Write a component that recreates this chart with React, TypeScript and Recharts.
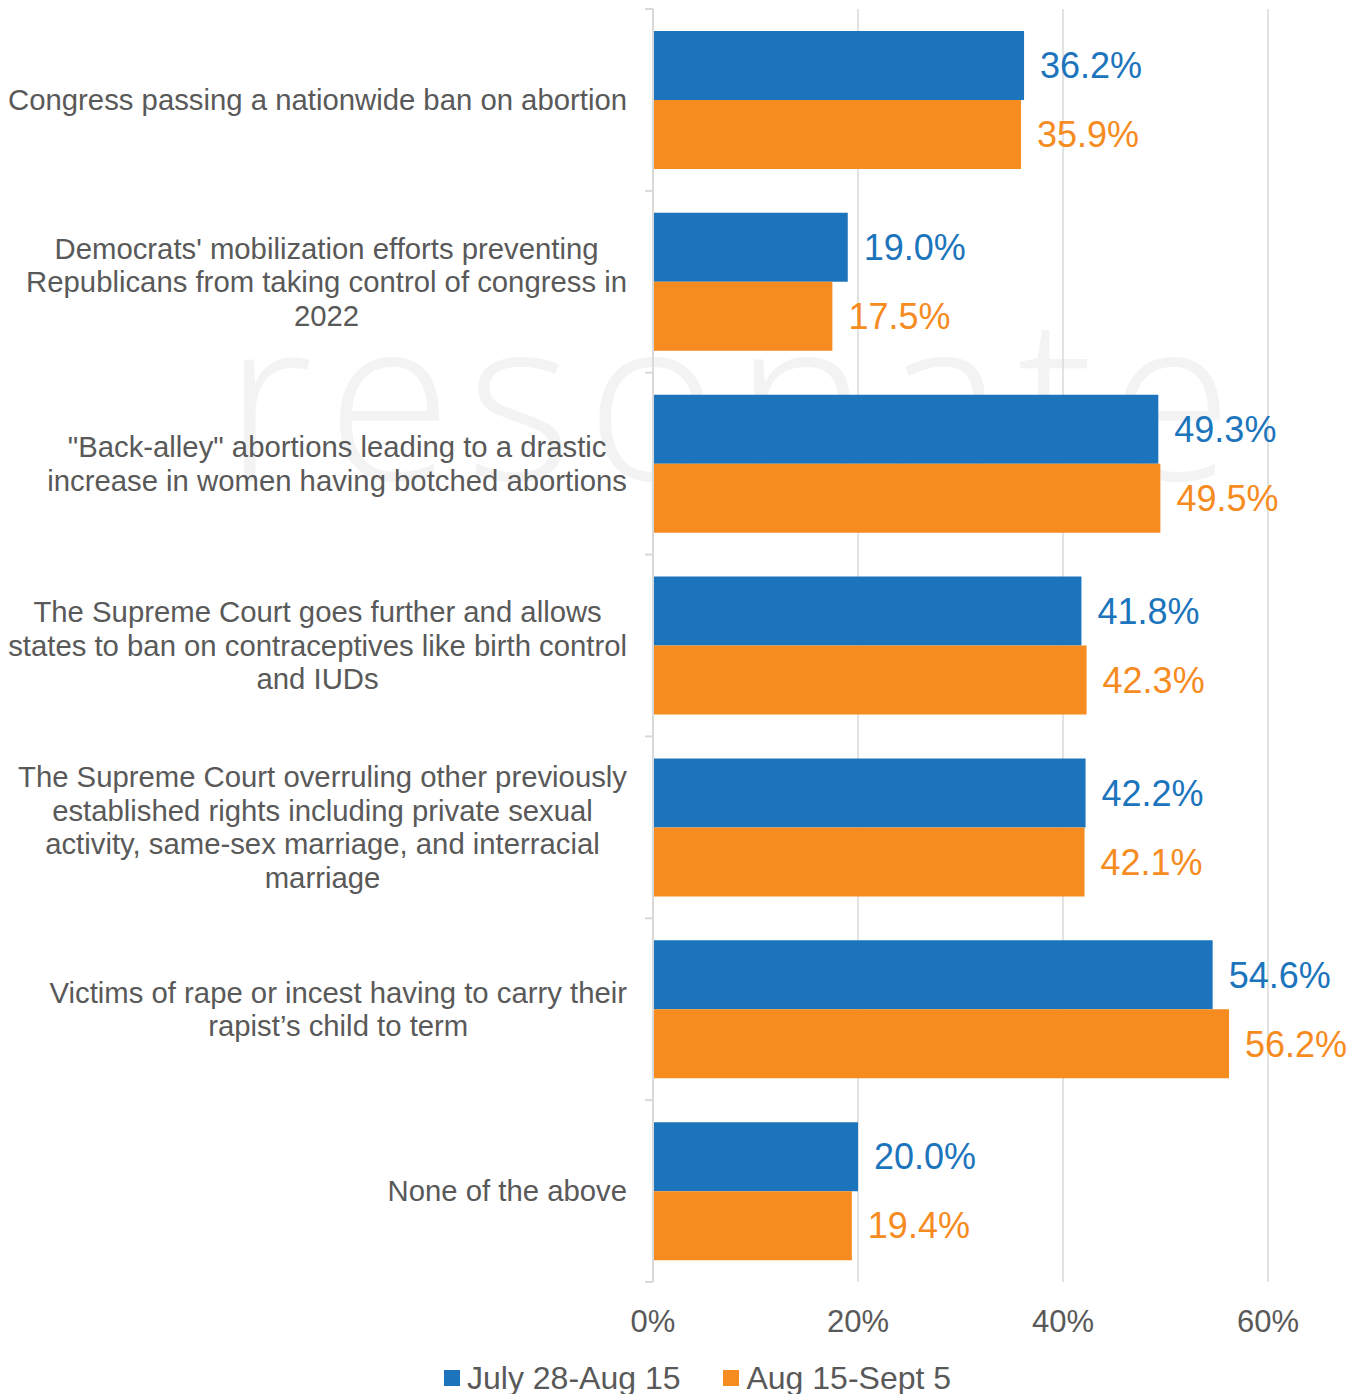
// Abortion-related concerns, two survey waves (horizontal bars)
import React from 'react'
import { BarChart, Bar, XAxis, YAxis, CartesianGrid, LabelList, Legend } from 'recharts'

const categories = [
  'Congress passing a nationwide ban on abortion',
  "Democrats' mobilization efforts preventing\nRepublicans from taking control of congress in\n2022",
  '"Back-alley" abortions leading to a drastic\nincrease in women having botched abortions',
  'The Supreme Court goes further and allows\nstates to ban on contraceptives like birth control\nand IUDs',
  'The Supreme Court overruling other previously\nestablished rights including private sexual\nactivity, same-sex marriage, and interracial\nmarriage',
  'Victims of rape or incest having to carry their\nrapist\u2019s child to term',
  'None of the above',
]
const julyAug = [36.2, 19.0, 49.3, 41.8, 42.2, 54.6, 20.0]
const augSept = [35.9, 17.5, 49.5, 42.3, 42.1, 56.2, 19.4]
const seriesNames = ['July 28-Aug 15', 'Aug 15-Sept 5']
const xTicks = [0, 20, 40, 60]

const BLUE = '#1C75BC'
const ORANGE = '#F68B1F'
const GREY = '#595959'
const LINE = '#D9D9D9'
const FONT = '"Liberation Sans", Arial, sans-serif'

const W = 1352
const H = 1386
const MARGIN = { top: 1, right: 92, left: 0, bottom: 52 }
const X_AXIS_H = 60
const BAND = (H - MARGIN.top - MARGIN.bottom - X_AXIS_H) / categories.length

const data = categories.map((name, i) => ({ name, a: julyAug[i], b: augSept[i] }))

let ctx: CanvasRenderingContext2D | null = null
const measure = (s: string, size: number) => {
  if (!ctx) ctx = document.createElement('canvas').getContext('2d')
  if (!ctx) return s.length * size * 0.5
  ctx.font = `${size}px "Liberation Sans", Arial, sans-serif`
  return ctx.measureText(s).width
}

// category label: lines centred within a block that is right-aligned at x
const CategoryTick = (props: any) => {
  const { x, y, payload, index } = props
  const size = 29.3
  const lh = 33.5
  const lines = String(payload.value).split('\n')
  const w = Math.max(...lines.map(l => measure(l, size)))
  const cx = x - w / 2
  const y0 = y - ((lines.length - 1) * lh) / 2
  const axisX = x + 26
  return (
    <g>
      <line x1={axisX - 8} x2={axisX} y1={y - BAND / 2} y2={y - BAND / 2} stroke={LINE} strokeWidth={2} />
      {index === categories.length - 1 && (
        <line x1={axisX - 8} x2={axisX} y1={y + BAND / 2} y2={y + BAND / 2} stroke={LINE} strokeWidth={2} />
      )}
      <text textAnchor="middle" fill={GREY} fontSize={size} fontFamily={FONT}>
        {lines.map((l, i) => (
          <tspan key={i} x={cx} y={y0 + i * lh} dy="0.35em">{l}</tspan>
        ))}
      </text>
    </g>
  )
}

const seriesColors = [BLUE, ORANGE]

const LegendContent = () => (
  <div style={{ display: 'flex', alignItems: 'center', fontFamily: FONT, fontSize: 32, color: GREY, whiteSpace: 'nowrap', lineHeight: '34px' }}>
    {seriesNames.map((name, i) => (
      <div key={name} style={{ display: 'flex', alignItems: 'center', marginRight: 43 }}>
        <span style={{ display: 'inline-block', width: 16, height: 16, background: seriesColors[i], marginRight: 7 }} />
        <span>{name}</span>
      </div>
    ))}
  </div>
)

const fmt = (v: any) => `${Number(v).toFixed(1)}%`

export default function App() {
  return (
    <div style={{ position: 'relative', width: W, height: H }}>
      <svg width={W} height={H} style={{ position: 'absolute', left: 0, top: 0 }}>
        <text x={216} y={472} fontFamily='"Open Sans", "Liberation Sans", sans-serif' fontWeight={300} fontSize={228} letterSpacing={14} fill="#F3F3F3">resonate</text>
      </svg>
      <BarChart
        width={W}
        height={H}
        data={data}
        layout="vertical"
        margin={MARGIN}
        barGap={0}
        style={{ position: 'relative' }}
      >
        <CartesianGrid horizontal={false} stroke={LINE} strokeWidth={1.5} />
        <XAxis
          type="number"
          domain={[0, 60]}
          ticks={xTicks}
          tickFormatter={(v: number) => `${v}%`}
          axisLine={false}
          tickLine={false}
          tickSize={0}
          tickMargin={28}
          height={X_AXIS_H}
          tick={{ fill: GREY, fontSize: 31, fontFamily: FONT }}
        />
        <YAxis
          type="category"
          dataKey="name"
          width={645}
          interval={0}
          tickLine={false}
          tickSize={0}
          tickMargin={26}
          axisLine={{ stroke: LINE, strokeWidth: 2 }}
          tick={<CategoryTick />}
        />
        <Legend
          layout="horizontal"
          verticalAlign="middle"
          align="center"
          wrapperStyle={{ top: 1353, left: 436, width: 'auto' }}
          content={<LegendContent />}
        />
        <Bar dataKey="a" name={seriesNames[0]} fill={BLUE} barSize={69} isAnimationActive={false}>
          <LabelList dataKey="a" position="right" offset={16} fill={BLUE} fontSize={36} fontFamily={FONT} formatter={fmt} />
        </Bar>
        <Bar dataKey="b" name={seriesNames[1]} fill={ORANGE} barSize={69} isAnimationActive={false}>
          <LabelList dataKey="b" position="right" offset={16} fill={ORANGE} fontSize={36} fontFamily={FONT} formatter={fmt} />
        </Bar>
      </BarChart>
    </div>
  )
}
